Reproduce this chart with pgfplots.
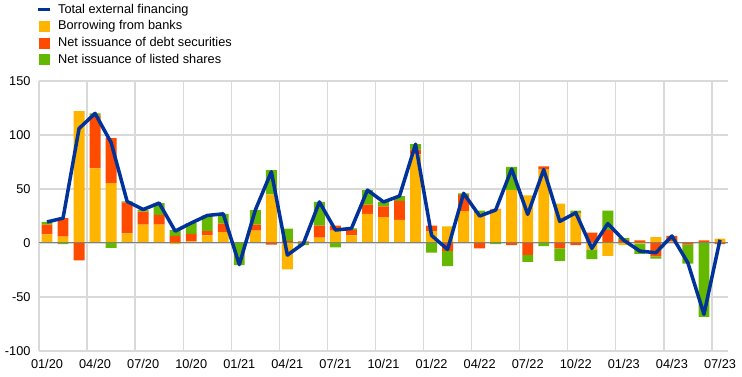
\documentclass[border=0pt]{standalone}
\usepackage{pgfplots}
\pgfplotsset{compat=1.18}
\usepackage{pgfplotstable}
\usepackage{fontspec}
\setmainfont{Liberation Sans}
\definecolor{ecbblue}{RGB}{0,50,153}
\definecolor{ecbyellow}{RGB}{255,180,0}
\definecolor{ecborange}{RGB}{255,75,0}
\definecolor{ecbgreen}{RGB}{101,184,0}
\definecolor{gridgray}{RGB}{217,217,217}
\definecolor{zerogray}{RGB}{128,128,128}

\pgfplotstableread{
x bank debt shares total
0 8 9 2.5 19.5
1 6 17 -1 23
2 122 -16 0 106
3 69 49 2 120
4 55.5 41.5 -4.5 93
5 9 28.5 1 38.5
6 17 12 1.5 31
7 17 9 11 37
8 -1 6.5 5.5 11
9 1.5 7 10 18.5
10 7 4 14.5 25.5
11 10 8 9 27
12 0 0.5 -20.5 -20
13 11.5 5.5 13.5 30.5
14 45 -1.5 22.5 66
15 -24.5 1.8 11.5 -11.2
16 0 1.5 -2 -0.5
17 5 11 22 38
18 11.5 4.5 -4 12
19 7 5 1.5 13.5
20 27 8.5 13.5 49
21 24 10 4 38
22 21.5 17.5 4.5 43.5
23 82 4.5 5 91.5
24 11 5 -9 7
25 15.5 -7.5 -14 -6
26 29.5 15 1.5 46
27 28 -5 2 25
28 31 0.5 -1 30.5
29 49 -2 21.5 68.5
30 44 -11 -6.5 26.5
31 68 3 -3 68
32 36.5 -5 -11.5 20
33 28 -2 2 28
34 -6 9.5 -9 -5
35 -12 12 18 18
36 -2 3 1.5 2.5
37 -1 2.5 -9 -7.5
38 5.5 -12.5 -2 -9
39 1.5 5 0 6.5
40 0 -1.5 -17.5 -18.5
41 0 2.5 -68.5 -66
42 4 -1 0 3
}\data

\pgfplotsset{
  common/.style={
    at={(0,0)}, anchor=south west, scale only axis,
    width=689bp, height=270bp,
    xmin=-0.5, xmax=42.5, ymin=-100, ymax=150,
    bar width=0.68,
    font=\fontsize{12.8}{15}\selectfont,
  },
  hidden/.style={axis lines=none, ticks=none},
}

\begin{document}
\begin{tikzpicture}
\path[use as bounding box] (-39bp,-26bp) rectangle (703bp,351bp);
% axis 1: grid, labels, positive parts
\begin{axis}[common,
  ybar stacked,
  axis line style={draw=none},
  tick style={draw=none},
  ytick={-100,-50,0,50,100,150},
  yticklabels={-100,-50,0,50,100,150},
  xtick={0,3,...,42},
  xticklabels={01/20,04/20,07/20,10/20,01/21,04/21,07/21,10/21,01/22,04/22,07/22,10/22,01/23,04/23,07/23},
  minor xtick={-0.5,2.5,...,41.5},
  ymajorgrids, xminorgrids,
  grid style={color=gridgray, line width=1.3bp},
  minor grid style={color=gridgray, line width=1.3bp},
  yticklabel style={xshift=-5bp},
  xticklabel style={yshift=-5bp},
]
\addplot[fill=ecbyellow, draw=none] table[x=x, y expr={max(\thisrow{bank},0)}] {\data};
\addplot[fill=ecborange, draw=none] table[x=x, y expr={max(\thisrow{debt},0)}] {\data};
\addplot[fill=ecbgreen, draw=none] table[x=x, y expr={max(\thisrow{shares},0)}] {\data};
\end{axis}
% axis 2: negative parts
\begin{axis}[common, hidden, ybar stacked]
\addplot[fill=ecbyellow, draw=none] table[x=x, y expr={min(\thisrow{bank},0)}] {\data};
\addplot[fill=ecborange, draw=none] table[x=x, y expr={min(\thisrow{debt},0)}] {\data};
\addplot[fill=ecbgreen, draw=none] table[x=x, y expr={min(\thisrow{shares},0)}] {\data};
\end{axis}
% axis 3: zero line, total line, legend
\begin{axis}[common, hidden,
  legend style={at={(0,1)}, anchor=south west, xshift=-6bp, yshift=12bp,
    draw=none, fill=none, font=\fontsize{12.8}{15}\selectfont,
    row sep=2bp},
  legend cell align=left,
]
\addlegendimage{legend image code/.code={\draw[ecbblue,line width=3.5bp](0bp,0bp)--(12bp,0bp);\path (18bp,0bp);}}
\addlegendentry{Total external financing}
\addlegendimage{legend image code/.code={\fill[ecbyellow](1bp,-5bp) rectangle (11bp,5bp);\path (18bp,0bp);}}
\addlegendentry{Borrowing from banks}
\addlegendimage{legend image code/.code={\fill[ecborange](1bp,-5bp) rectangle (11bp,5bp);\path (18bp,0bp);}}
\addlegendentry{Net issuance of debt securities}
\addlegendimage{legend image code/.code={\fill[ecbgreen](1bp,-5bp) rectangle (11bp,5bp);\path (18bp,0bp);}}
\addlegendentry{Net issuance of listed shares}
\addplot[zerogray, line width=1bp, forget plot] coordinates {(-0.5,0) (42.5,0)};
\addplot[ecbblue, line width=3.5bp, line join=round, forget plot] table[x=x, y=total] {\data};
\end{axis}
\end{tikzpicture}
\end{document}
